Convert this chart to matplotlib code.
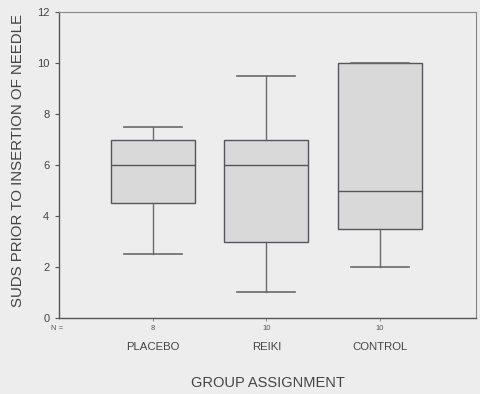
import matplotlib
matplotlib.use("Agg")
import matplotlib.pyplot as plt
import matplotlib.transforms as mtransforms

plt.rcParams['font.family'] = ['Liberation Sans', 'DejaVu Sans']

categories = ["PLACEBO", "REIKI", "CONTROL"]
n_counts = [8, 10, 10]
whislo = [2.5, 1.0, 2.0]
q1 = [4.5, 3.0, 3.5]
med = [6.0, 6.0, 5.0]
q3 = [7.0, 7.0, 10.0]
whishi = [7.5, 9.5, 10.0]
yticks = [0, 2, 4, 6, 8, 10, 12]

bg = "#ededed"
fig = plt.figure(figsize=(4.81, 3.94), dpi=100, facecolor=bg)
ax = fig.add_axes([0.1227, 0.1929, 0.8669, 0.7766], facecolor=bg)

stats = []
for i, c in enumerate(categories):
    stats.append(dict(label=c, whislo=whislo[i], q1=q1[i], med=med[i],
                      q3=q3[i], whishi=whishi[i], fliers=[]))
pos = list(range(1, len(categories) + 1))
ax.bxp(stats, positions=pos, widths=0.74, patch_artist=True, showfliers=False,
       boxprops=dict(facecolor="#d9d9d9", edgecolor="#55555f", linewidth=1.0),
       medianprops=dict(color="#55555f", linewidth=1.0),
       whiskerprops=dict(color="#6a6a6a", linewidth=1.0),
       capprops=dict(color="#6a6a6a", linewidth=1.2),
       capwidths=0.51)

ax.set_xlim(0.17, 3.85)
ax.set_ylim(0, 12)
ax.set_yticks(yticks)
ax.set_yticklabels([str(v) for v in yticks], fontsize=8, color="#444444")
ax.tick_params(axis="y", length=3, width=0.8, color="#555555", pad=4)
ax.set_xticks(pos)
ax.set_xticklabels(categories, fontsize=8.2, color="#444444")
ax.tick_params(axis="x", length=2, width=0.6, color="#777777", pad=15)

for s in ["left", "bottom"]:
    ax.spines[s].set_color("#555555")
    ax.spines[s].set_linewidth(1.0)
for s in ["top", "right"]:
    ax.spines[s].set_color("#888888")
    ax.spines[s].set_linewidth(0.8)

trans = mtransforms.blended_transform_factory(ax.transData, ax.transAxes)
ax.text(-0.005, -0.033, "N =", transform=ax.transAxes, fontsize=5.5, color="#555555",
        ha="center", va="center")
for p, n in zip(pos, n_counts):
    ax.text(p, -0.033, str(n), transform=trans, fontsize=5.5, color="#555555",
            ha="center", va="center")

ax.set_xlabel("GROUP ASSIGNMENT", fontsize=10.5, color="#444444")
ax.xaxis.set_label_coords(0.5, -0.212)
ax.xaxis.label.set_va("center")
ax.set_ylabel("SUDS PRIOR TO INSERTION OF NEEDLE", fontsize=10.8, color="#444444")
ax.yaxis.set_label_coords(-0.098, 0.516)
ax.yaxis.label.set_va("center")

fig.savefig("out.png", dpi=100, facecolor=bg)
